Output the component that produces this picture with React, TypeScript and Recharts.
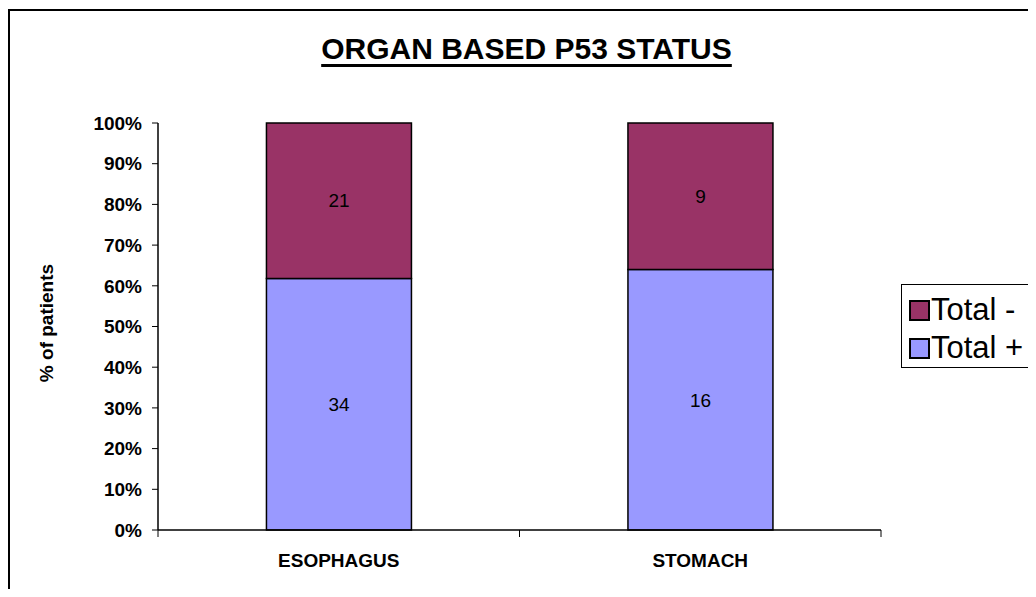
import { BarChart, Bar, XAxis, YAxis, LabelList } from 'recharts'

// organ based p53 status, counts of patients
const organs = ['ESOPHAGUS', 'STOMACH']
const totalPositive = [34, 16]
const totalNegative = [21, 9]
const yTicks = [0, 0.1, 0.2, 0.3, 0.4, 0.5, 0.6, 0.7, 0.8, 0.9, 1]

const data = organs.map((organ, i) => ({
  organ,
  pos: totalPositive[i],
  neg: totalNegative[i],
}))

const posColor = '#9999FF'
const negColor = '#993366'
// legend lists the top series first, like the original
const legendItems = [
  { name: 'Total -', color: negColor },
  { name: 'Total +', color: posColor },
]

const font = 'Arial, "Liberation Sans", sans-serif'

function OrganTick(props: any) {
  const { x, y, payload } = props
  const half = payload && payload.offset ? payload.offset : 180.75
  return (
    <g>
      <line x1={x - half} y1={y - 7} x2={x - half} y2={y} stroke="#000" />
      <line x1={x + half} y1={y - 7} x2={x + half} y2={y} stroke="#000" />
      <text x={x} y={y + 30} textAnchor="middle" fontFamily={font} fontWeight="bold" fontSize={19} fill="#000">
        {payload.value}
      </text>
    </g>
  )
}

export default function App() {
  return (
    <div style={{ position: 'relative', width: 1036, height: 597, margin: -8, overflow: 'hidden', background: '#fff', fontFamily: font }}>
      <div style={{ position: 'absolute', left: 8, top: 9, width: 1200, height: 800, border: '2px solid #000', boxSizing: 'border-box' }} />
      <div
        style={{
          position: 'absolute',
          left: 0,
          top: 34,
          width: 1053,
          textAlign: 'center',
          fontSize: 30,
          lineHeight: '30px',
          fontWeight: 'bold',
          textDecoration: 'underline',
          textDecorationThickness: 3,
          textUnderlineOffset: 5,
        }}
      >
        ORGAN BASED P53 STATUS
      </div>
      <div
        style={{
          position: 'absolute',
          left: -53,
          top: 313,
          width: 200,
          lineHeight: '20px',
          textAlign: 'center',
          fontSize: 19,
          fontWeight: 'bold',
          transform: 'rotate(-90deg)',
        }}
      >
        % of patients
      </div>
      <div style={{ position: 'absolute', left: 0, top: 0 }}>
        <BarChart
          width={1036}
          height={597}
          data={data}
          stackOffset="expand"
          barCategoryGap="30%"
          margin={{ top: 123, right: 155, bottom: 30, left: 98 }}
        >
          <XAxis
            dataKey="organ"
            axisLine={{ stroke: '#000', strokeWidth: 1.5 }}
            tickLine={false}
            tickSize={7}
            tickMargin={0}
            height={37}
            tick={<OrganTick />}
          />
          <XAxis xAxisId="top" dataKey="organ" orientation="top" height={0} axisLine={{ stroke: '#999', strokeWidth: 2 }} tick={false} tickLine={false} />
          <YAxis
            ticks={yTicks}
            domain={[0, 1]}
            width={60}
            tickFormatter={(v: number) => `${Math.round(v * 100)}%`}
            axisLine={{ stroke: '#000', strokeWidth: 1.5 }}
            tickLine={{ stroke: '#000' }}
            tickSize={6}
            tickMargin={10}
            tick={{ fill: '#000', fontFamily: font, fontWeight: 'bold', fontSize: 19 }}
            interval={0}
          />
          <YAxis yAxisId="right" orientation="right" domain={[0, 1]} type="number" width={0} axisLine={{ stroke: '#999', strokeWidth: 2 }} tick={false} tickLine={false} />
          <Bar dataKey="pos" name="Total +" stackId="a" fill={posColor} stroke="#000" strokeWidth={1.5} isAnimationActive={false}>
            <LabelList dataKey="pos" position="center" fill="#000" fontFamily={font} fontSize={19} />
          </Bar>
          <Bar dataKey="neg" name="Total -" stackId="a" fill={negColor} stroke="#000" strokeWidth={1.5} isAnimationActive={false}>
            <LabelList dataKey="neg" position="center" fill="#000" fontFamily={font} fontSize={19} />
          </Bar>
        </BarChart>
      </div>
      <div
        style={{
          position: 'absolute',
          left: 901,
          top: 284,
          width: 134,
          height: 84,
          border: '1px solid #000',
          padding: '6px 0 0 7px',
          boxSizing: 'border-box',
          background: '#fff',
        }}
      >
        {legendItems.map((it) => (
          <div key={it.name} style={{ display: 'flex', alignItems: 'center', height: 38, fontSize: 31, color: '#000', whiteSpace: 'nowrap' }}>
            <span style={{ width: 17, height: 17, border: '2px solid #000', background: it.color, marginRight: 1, flex: 'none' }} />
            <span>{it.name}</span>
          </div>
        ))}
      </div>
    </div>
  )
}
